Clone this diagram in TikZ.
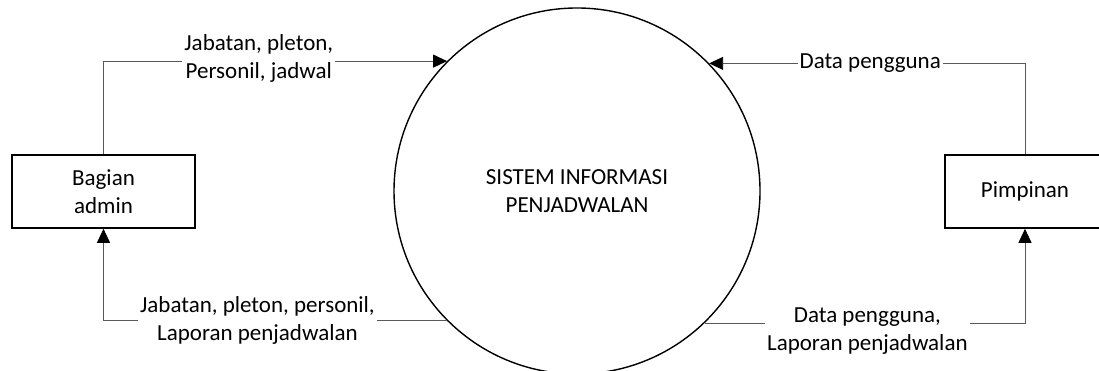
\documentclass[tikz,border=0pt]{standalone}
\usepackage{fontspec}
\setmainfont{Carlito}
\usetikzlibrary{arrows.meta, positioning}

\begin{document}
\begin{tikzpicture}[
    x=1pt, y=1pt,
    font=\fontsize{23}{28}\selectfont,
    >={Triangle[length=14pt, width=13pt, color=black]},
    entity/.style={
        rectangle, draw=black, line width=1.6pt, fill=white,
        minimum width=#1, minimum height=73pt,
        align=center, inner sep=0pt
    },
    entity/.default={183pt},
    process/.style={
        circle, draw=black, line width=1.4pt,
        minimum size=366pt, inner sep=0pt, align=center
    },
    flow/.style={
        ->, line width=0.9pt, black!65
    },
    flowlabel/.style={
        fill=white, text=black, align=center, inner sep=2pt
    }
]

% ── Frame ──
\clip (0,0) rectangle (1099,371);

% ── Process ──
\node[process] (sistem) at (577,180) {SISTEM INFORMASI\\PENJADWALAN};

% ── External entities ──
\node[entity] (admin) at (103.5,179.5) {Bagian\\admin};
\node[entity=160pt] (pimpinan) at (1025,179.5) {Pimpinan};

% ── Data flows ──
% Bagian admin -> Sistem
\draw[flow] (admin.north) |- node[flowlabel, pos=0.726, yshift=3pt] {Jabatan, pleton,\\Personil, jadwal} (sistem.135.6);

% Pimpinan -> Sistem
\draw[flow] (pimpinan.north) |- node[flowlabel, pos=0.745] {Data pengguna} (sistem.44.4);

% Sistem -> Bagian admin
\draw[flow] (sistem.225.3) -| node[flowlabel, pos=0.276] {Jabatan, pleton, personil,\\Laporan penjadwalan} (admin.south);

% Sistem -> Pimpinan
\draw[flow] (sistem.314.7) -| node[flowlabel, pos=0.254, yshift=-8pt] {Data pengguna,\\Laporan penjadwalan} (pimpinan.south);

\end{tikzpicture}
\end{document}
